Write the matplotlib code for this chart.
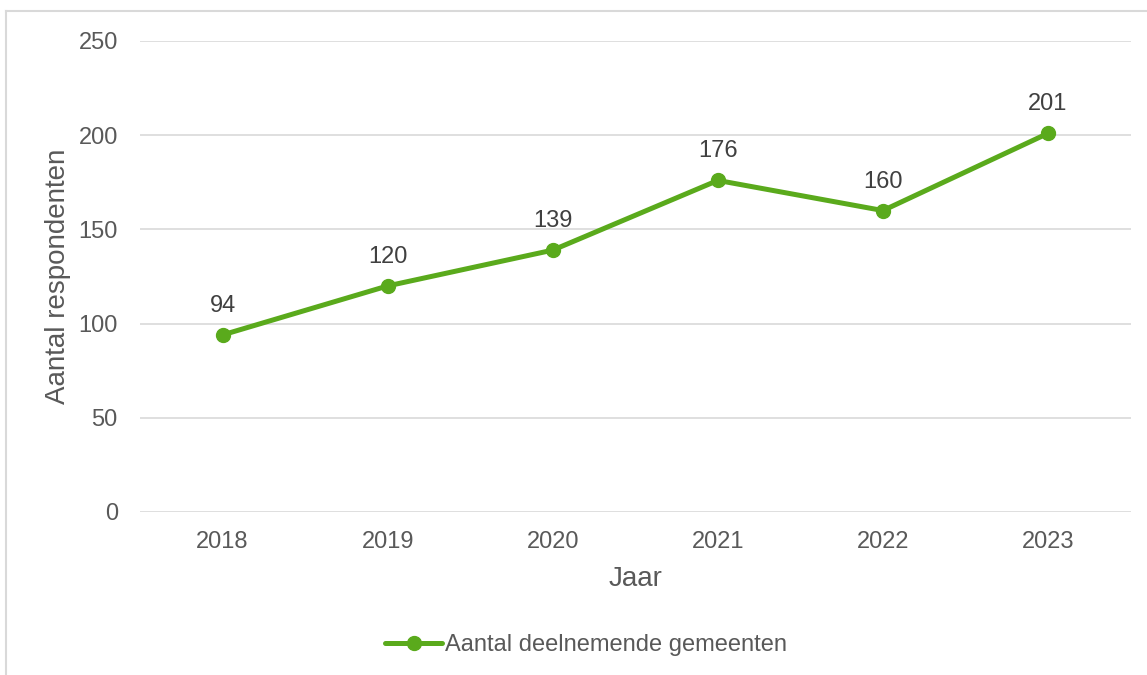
import matplotlib
matplotlib.use('Agg')
import matplotlib.pyplot as plt
from matplotlib.lines import Line2D

plt.rcParams['font.family'] = ['Liberation Sans', 'DejaVu Sans']

jaren = ['2018', '2019', '2020', '2021', '2022', '2023']
respondenten = [94, 120, 139, 176, 160, 201]
y_ticks = [0, 50, 100, 150, 200, 250]

GROEN = '#5aaa1c'
GRIJS_TEKST = '#595959'

W, H = 1147, 675
fig = plt.figure(figsize=(W / 100, H / 100), dpi=100)
ax = fig.add_axes([140 / W, 1 - 512 / H, (1130.6 - 140) / W, (512 - 41) / H])

x = list(range(len(jaren)))
ax.plot(x, respondenten, color=GROEN, lw=3.6, marker='o', markersize=10,
        label='Aantal deelnemende gemeenten', zorder=3, solid_capstyle='round')
for xi, v in zip(x, respondenten):
    ax.annotate(str(v), (xi, v), xytext=(0, 13), textcoords='offset points',
                ha='center', va='bottom', fontsize=17, color='#404040')

ax.set_xlim(-0.5, len(jaren) - 0.5)
ax.set_ylim(0, 250)
ax.set_xticks(x)
ax.set_xticklabels(jaren)
ax.set_yticks(y_ticks)
ax.tick_params(axis='both', length=0, labelsize=17, labelcolor=GRIJS_TEKST)
ax.tick_params(axis='y', pad=16)
ax.tick_params(axis='x', pad=14)
ax.grid(axis='y', color='#d9d9d9', lw=1.2)
ax.set_axisbelow(True)
for s in ax.spines.values():
    s.set_visible(False)

ax.set_ylabel('Aantal respondenten', fontsize=20, color=GRIJS_TEKST, labelpad=5)
ax.set_xlabel('Jaar', fontsize=20, color=GRIJS_TEKST, labelpad=9)

leg = fig.legend(loc='center', bbox_to_anchor=(586 / W, 1 - 645 / H), frameon=False,
                 fontsize=17, handlelength=2.4, handletextpad=0.1, labelcolor=GRIJS_TEKST)

# rand van het grafiekvlak
fig.add_artist(Line2D([6 / W, 1], [1 - 11 / H, 1 - 11 / H], color='#d9d9d9', lw=1.5,
                      transform=fig.transFigure))
fig.add_artist(Line2D([6 / W, 6 / W], [1 - 11 / H, 0], color='#d9d9d9', lw=1.5,
                      transform=fig.transFigure))

fig.savefig('out.png', dpi=100)
